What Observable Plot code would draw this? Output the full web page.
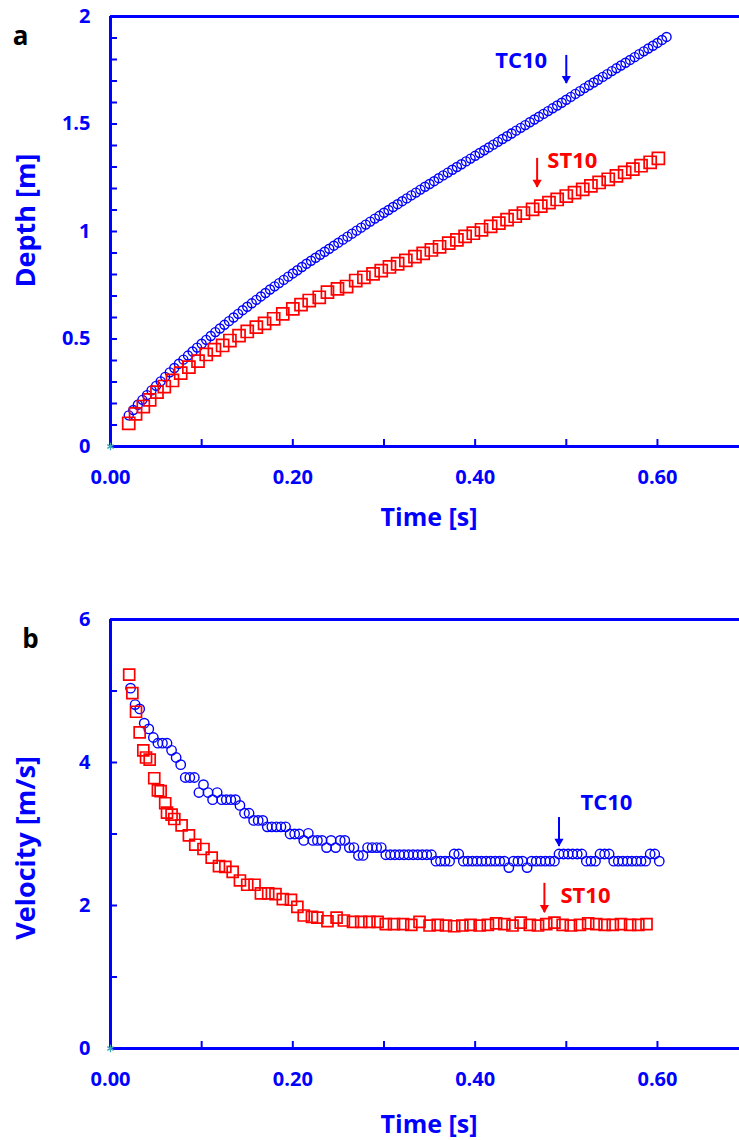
<!DOCTYPE html>
<html><head><meta charset="utf-8">
<script src="https://cdn.jsdelivr.net/npm/d3@7"></script>
<script src="https://cdn.jsdelivr.net/npm/@observablehq/plot@0.6"></script>
<style>html,body{margin:0;padding:0;background:#fff}svg{display:block}</style>
</head><body><div id="chart"></div>
<script>
// ---------- Panel a: depth vs time ----------
const tcDepthTime = [0.020,0.025,0.030,0.035,0.040,0.045,0.050,0.055,0.060,0.065,0.070,0.075,0.080,0.085,0.090,0.095,0.100,0.105,0.110,0.115,0.120,0.125,0.130,0.135,0.140,0.145,0.150,0.155,0.160,0.165,0.170,0.175,0.180,0.185,0.190,0.195,0.200,0.205,0.210,0.215,0.220,0.225,0.230,0.235,0.240,0.245,0.250,0.255,0.260,0.265,0.270,0.275,0.280,0.285,0.290,0.295,0.300,0.305,0.310,0.315,0.320,0.325,0.330,0.335,0.340,0.345,0.350,0.355,0.360,0.365,0.370,0.375,0.380,0.385,0.390,0.395,0.400,0.405,0.410,0.415,0.420,0.425,0.430,0.435,0.440,0.445,0.450,0.455,0.460,0.465,0.470,0.475,0.480,0.485,0.490,0.495,0.500,0.505,0.510,0.515,0.520,0.525,0.530,0.535,0.540,0.545,0.550,0.555,0.560,0.565,0.570,0.575,0.580,0.585,0.590,0.595,0.600,0.605,0.610];
const tcDepth = [0.145,0.170,0.194,0.217,0.239,0.261,0.282,0.303,0.324,0.345,0.365,0.385,0.404,0.423,0.442,0.460,0.478,0.496,0.514,0.532,0.549,0.566,0.583,0.600,0.617,0.634,0.650,0.666,0.682,0.698,0.714,0.730,0.745,0.760,0.775,0.790,0.805,0.820,0.835,0.850,0.864,0.878,0.892,0.906,0.920,0.934,0.948,0.962,0.976,0.990,1.004,1.018,1.032,1.046,1.060,1.073,1.087,1.100,1.114,1.127,1.141,1.154,1.168,1.181,1.195,1.208,1.221,1.234,1.248,1.261,1.274,1.287,1.300,1.313,1.326,1.339,1.352,1.365,1.378,1.391,1.404,1.417,1.430,1.443,1.456,1.469,1.482,1.495,1.508,1.521,1.534,1.547,1.560,1.573,1.586,1.599,1.613,1.626,1.640,1.653,1.667,1.680,1.693,1.706,1.719,1.732,1.746,1.759,1.772,1.785,1.798,1.811,1.825,1.838,1.851,1.864,1.877,1.891,1.905];
const stDepthTime = [0.020,0.0275,0.036,0.043,0.051,0.059,0.068,0.077,0.086,0.096,0.105,0.114,0.123,0.131,0.141,0.150,0.160,0.169,0.179,0.189,0.200,0.209,0.218,0.229,0.238,0.249,0.259,0.269,0.278,0.288,0.297,0.306,0.315,0.324,0.334,0.343,0.352,0.361,0.371,0.380,0.389,0.398,0.407,0.417,0.426,0.435,0.444,0.453,0.463,0.472,0.481,0.490,0.500,0.509,0.518,0.527,0.536,0.546,0.555,0.564,0.573,0.582,0.592,0.601];
const stDepth = [0.108,0.152,0.186,0.217,0.253,0.279,0.307,0.341,0.369,0.397,0.428,0.450,0.470,0.493,0.516,0.535,0.555,0.573,0.594,0.617,0.640,0.660,0.679,0.694,0.718,0.733,0.744,0.772,0.787,0.803,0.818,0.835,0.850,0.866,0.883,0.898,0.914,0.929,0.946,0.961,0.977,0.992,1.008,1.024,1.039,1.055,1.071,1.086,1.103,1.118,1.134,1.149,1.165,1.181,1.196,1.212,1.228,1.243,1.259,1.275,1.290,1.306,1.322,1.340];

// ---------- Panel b: velocity vs time ----------
const tcVelTime = [0.022,0.027,0.032,0.037,0.042,0.047,0.052,0.057,0.062,0.067,0.072,0.077,0.082,0.087,0.092,0.097,0.102,0.107,0.112,0.117,0.122,0.127,0.132,0.137,0.142,0.147,0.152,0.157,0.162,0.167,0.172,0.177,0.182,0.187,0.192,0.197,0.202,0.207,0.212,0.217,0.222,0.227,0.232,0.237,0.242,0.247,0.252,0.257,0.262,0.267,0.272,0.277,0.282,0.287,0.292,0.297,0.302,0.307,0.312,0.317,0.322,0.327,0.332,0.337,0.342,0.347,0.352,0.357,0.362,0.367,0.372,0.377,0.382,0.387,0.392,0.397,0.402,0.407,0.412,0.417,0.422,0.427,0.432,0.437,0.442,0.447,0.452,0.457,0.462,0.467,0.472,0.477,0.482,0.487,0.492,0.497,0.502,0.507,0.512,0.517,0.522,0.527,0.532,0.537,0.542,0.547,0.552,0.557,0.562,0.567,0.572,0.577,0.582,0.587,0.592,0.597,0.602];
const tcVel = [5.04,4.81,4.75,4.55,4.47,4.35,4.27,4.27,4.27,4.17,4.07,3.97,
3.79,3.79,3.79,3.58,3.69,3.58,3.48,3.58,3.48,3.48,3.48,3.48,
3.40,3.29,3.29,3.19,3.19,3.19,3.10,3.10,3.10,3.10,3.10,3.00,
3.00,3.00,2.91,3.01,2.91,2.91,2.91,2.81,2.91,2.81,2.91,2.91,
2.81,2.81,2.70,2.70,2.81,2.81,2.81,2.81,2.71,2.71,2.71,2.71,
2.71,2.71,2.71,2.71,2.71,2.71,2.71,2.62,2.62,2.62,2.62,2.72,
2.72,2.62,2.62,2.62,2.62,2.62,2.62,2.62,2.62,2.62,2.62,2.53,
2.62,2.62,2.62,2.53,2.62,2.62,2.62,2.62,2.62,2.62,2.72,2.72,
2.72,2.72,2.72,2.72,2.62,2.62,2.62,2.72,2.72,2.72,2.62,2.62,
2.62,2.62,2.62,2.62,2.62,2.62,2.72,2.72,2.62];
const stVelTime = [0.0205,0.024,0.028,0.032,0.036,0.039,0.043,0.048,0.052,0.055,0.060,0.062,0.067,0.070,0.078,0.086,0.093,0.102,0.111,0.119,0.126,0.134,0.142,0.150,0.158,0.165,0.173,0.181,0.189,0.198,0.205,0.212,0.221,0.227,0.238,0.248,0.256,0.266,0.275,0.284,0.293,0.302,0.311,0.321,0.330,0.339,0.350,0.359,0.368,0.377,0.386,0.395,0.405,0.414,0.423,0.432,0.441,0.450,0.460,0.469,0.478,0.487,0.496,0.505,0.515,0.524,0.533,0.542,0.551,0.560,0.570,0.579,0.588];
const stVel = [5.23,4.97,4.71,4.42,4.17,4.07,4.04,3.78,3.61,3.60,3.43,3.30,3.27,3.21,3.12,2.98,2.85,2.79,2.67,2.55,2.54,2.47,2.35,2.29,2.29,2.17,2.17,2.16,2.09,2.08,1.98,1.86,1.84,1.83,1.78,1.83,1.79,1.77,1.77,1.77,1.77,1.74,1.74,1.74,1.73,1.77,1.72,1.73,1.72,1.71,1.72,1.73,1.72,1.73,1.75,1.74,1.72,1.76,1.73,1.72,1.74,1.76,1.73,1.72,1.73,1.75,1.74,1.73,1.73,1.74,1.73,1.73,1.74];

// ---------- Axis ticks ----------
const xTickMarks = [0, 0.1, 0.2, 0.3, 0.4, 0.5, 0.6];
const xTickLabels = [0, 0.2, 0.4, 0.6];
const depthTickMarks = [0,0.1,0.2,0.3,0.4,0.5,0.6,0.7,0.8,0.9,1,1.1,1.2,1.3,1.4,1.5,1.6,1.7,1.8,1.9,2];
const depthTickLabels = [0, 0.5, 1, 1.5, 2];
const velTickMarks = [0,1,2,3,4,5,6];
const velTickLabels = [0, 2, 4, 6];

// ---------- Annotations (data coordinates) ----------
const depthLabels = [
  {name: "TC10", x: 0.4505, y: 1.795, color: "#0000ff"},
  {name: "ST10", x: 0.5066, y: 1.326, color: "#ff0000"}
];
const depthArrows = [
  {x: 0.500, y1: 1.819, y2: 1.688, color: "#0000ff"},
  {x: 0.468, y1: 1.340, y2: 1.205, color: "#ff0000"}
];
const velLabels = [
  {name: "TC10", x: 0.544, y: 3.43, color: "#0000ff"},
  {name: "ST10", x: 0.521, y: 2.14, color: "#ff0000"}
];
const velArrows = [
  {x: 0.492, y1: 3.23, y2: 2.825, color: "#0000ff"},
  {x: 0.476, y1: 2.31, y2: 1.90, color: "#ff0000"}
];

const BLUE = "#0000ff", RED = "#ff0000";
const FONT = "'Open Sans', 'Noto Sans', sans-serif";
const pts = (xs, ys) => xs.map((x, i) => ({x, y: ys[i]}));

function panel(o) {
  return Plot.plot({
    width: 739, height: o.height,
    marginLeft: 110, marginRight: 0, marginTop: o.marginTop, marginBottom: o.marginBottom,
    style: {fontFamily: FONT, fontWeight: "bold", color: BLUE, background: "white", overflow: "visible"},
    x: {domain: [0, 0.69], axis: null},
    y: {domain: o.yDomain, axis: null},
    marks: [
      Plot.ruleY([o.yDomain[0]], {stroke: BLUE, strokeWidth: 3}),
      Plot.ruleY([o.yDomain[1]], {stroke: BLUE, strokeWidth: 3}),
      Plot.ruleX([0], {stroke: BLUE, strokeWidth: 3}),
      Plot.axisX(xTickMarks, {tickSize: -7, tickFormat: () => "", stroke: BLUE, strokeWidth: 2, label: null}),
      Plot.axisY(o.yTickMarks, {tickSize: -7, tickFormat: () => "", stroke: BLUE, strokeWidth: 2, label: null}),
      Plot.axisX(xTickLabels, {tickSize: 0, tickPadding: 23, tickFormat: d3.format(".2f"), fill: BLUE, fontSize: 20, label: null}),
      Plot.axisY(o.yTickLabels, {tickSize: 0, tickPadding: 20, tickFormat: d => String(d), fill: BLUE, fontSize: 20, label: null}),
      Plot.text(["Time [s]"], {frameAnchor: "bottom", textAnchor: "middle", lineAnchor: "middle", dx: 4, dy: o.xTitleDy, fill: BLUE, fontSize: 25}),
      Plot.text([o.yTitle], {frameAnchor: "left", textAnchor: "middle", lineAnchor: "middle", rotate: -90, dx: -84, dy: o.yTitleDy, fill: BLUE, fontSize: o.yTitleSize}),
      Plot.text([o.letter], {frameAnchor: "top-left", textAnchor: "middle", lineAnchor: "middle", dx: o.letterDx, dy: o.letterDy, fill: "black", fontSize: 26}),
      Plot.dot([{x: 0, y: 0}], {x: "x", y: "y", symbol: "asterisk", r: 3.5, stroke: "#3aa6b9", strokeWidth: 1.3}),
      Plot.dot(o.tc, {x: "x", y: "y", symbol: "circle", r: o.rc, fill: "none", stroke: BLUE, strokeWidth: 1.4}),
      Plot.dot(o.st, {x: "x", y: "y", symbol: "square", r: o.rs, fill: "none", stroke: RED, strokeWidth: 1.7}),
      Plot.text(o.labels, {x: "x", y: "y", text: "name", fill: "color", fontSize: 22}),
      Plot.ruleX(o.arrows, {x: "x", y1: "y1", y2: "y2", stroke: "color", strokeWidth: 2}),
      Plot.dot(o.arrows, {x: "x", y: "y2", symbol: "triangle", rotate: 180, r: 3.4, dy: -5, fill: "color", stroke: "none"})
    ]
  });
}

const panelA = panel({
  height: 560, marginTop: 16, marginBottom: 114,
  yDomain: [0, 2], yTickMarks: depthTickMarks, yTickLabels: depthTickLabels,
  yTitle: "Depth [m]", yTitleDy: -11, yTitleSize: 27, xTitleDy: 71,
  letter: "a", letterDx: -90, letterDy: 20,
  tc: pts(tcDepthTime, tcDepth), st: pts(stDepthTime, stDepth), rc: 4.5, rs: 6.8,
  labels: depthLabels, arrows: depthArrows
});
const panelB = panel({
  height: 580, marginTop: 59, marginBottom: 92,
  yDomain: [0, 6], yTickMarks: velTickMarks, yTickLabels: velTickLabels,
  yTitle: "Velocity [m/s]", yTitleDy: 14, yTitleSize: 27, xTitleDy: 76,
  letter: "b", letterDx: -80, letterDy: 20,
  tc: pts(tcVelTime, tcVel), st: pts(stVelTime, stVel), rc: 4.7, rs: 6.2,
  labels: velLabels, arrows: velArrows
});
const root = document.getElementById("chart");
root.appendChild(panelA);
root.appendChild(panelB);
</script>
</body></html>
